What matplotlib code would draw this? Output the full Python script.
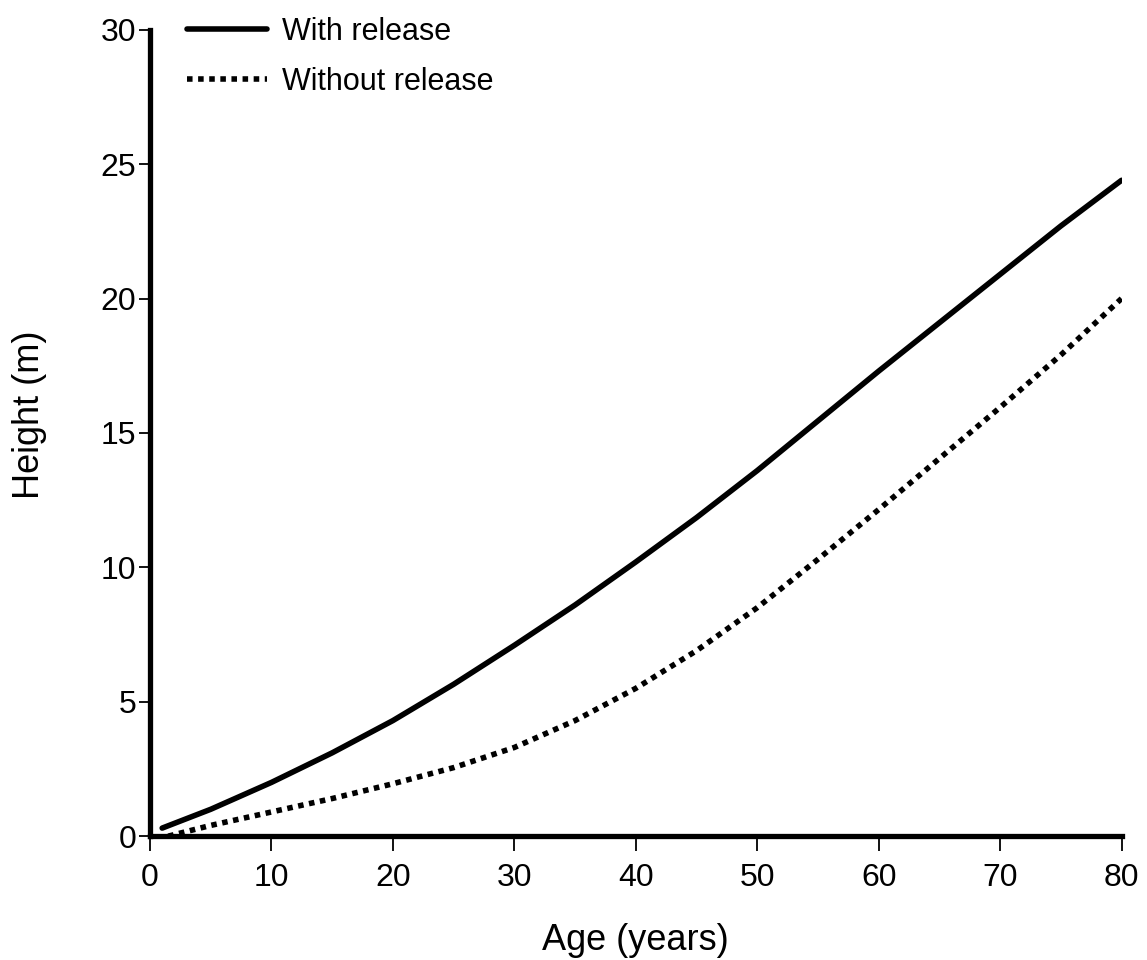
import matplotlib
matplotlib.use("Agg")
import matplotlib.pyplot as plt

plt.rcParams['font.family'] = ['Liberation Sans', 'DejaVu Sans']

# valeurs
age_avec = [1, 5, 10, 15, 20, 25, 30, 35, 40, 45, 50, 55, 60, 65, 70, 75, 80]
hauteur_avec = [0.3, 1.0, 2.0, 3.1, 4.3, 5.65, 7.1, 8.6, 10.2, 11.85, 13.6, 15.45, 17.3, 19.1, 20.9, 22.7, 24.4]

age_sans = [1.5, 5, 10, 15, 20, 25, 30, 35, 40, 45, 50, 55, 60, 65, 70, 75, 80]
hauteur_sans = [0.0, 0.4, 0.9, 1.4, 1.95, 2.55, 3.3, 4.3, 5.5, 6.9, 8.5, 10.3, 12.15, 14.05, 15.95, 17.9, 20.0]

x_ticks = [0, 10, 20, 30, 40, 50, 60, 70, 80]
y_ticks = [0, 5, 10, 15, 20, 25, 30]

fig = plt.figure(figsize=(11.47, 9.6), dpi=100)
ax = fig.add_axes([0.1308, 0.129, 0.8470, 0.840])

ax.plot(age_avec, hauteur_avec, color="black", linewidth=4, solid_capstyle="round",
        solid_joinstyle="round", label="With release")
ax.plot(age_sans, hauteur_sans, color="black", linewidth=4,
        linestyle=(0, (1.0, 1.0)), label="Without release")

ax.set_xlim(0, 80)
ax.set_ylim(0, 30)
ax.set_xticks(x_ticks)
ax.set_yticks(y_ticks)

for cote in ["top", "right"]:
    ax.spines[cote].set_visible(False)
for cote in ["left", "bottom"]:
    ax.spines[cote].set_linewidth(3.8)

ax.tick_params(axis="x", direction="out", length=11, width=1.3, labelsize=23, pad=8)
ax.tick_params(axis="y", direction="out", length=8, width=1.3, labelsize=23, pad=2)

ax.set_xlabel("Age (years)", fontsize=26, labelpad=22)
ax.set_ylabel("Height (m)", fontsize=26)
ax.yaxis.set_label_coords(-0.106, 0.522)

leg = ax.legend(loc="upper left", bbox_to_anchor=(0.01, 1.05), frameon=False,
                fontsize=22, handlelength=2.6, handletextpad=0.5, labelspacing=0.65)

fig.savefig("out.png", dpi=100)
